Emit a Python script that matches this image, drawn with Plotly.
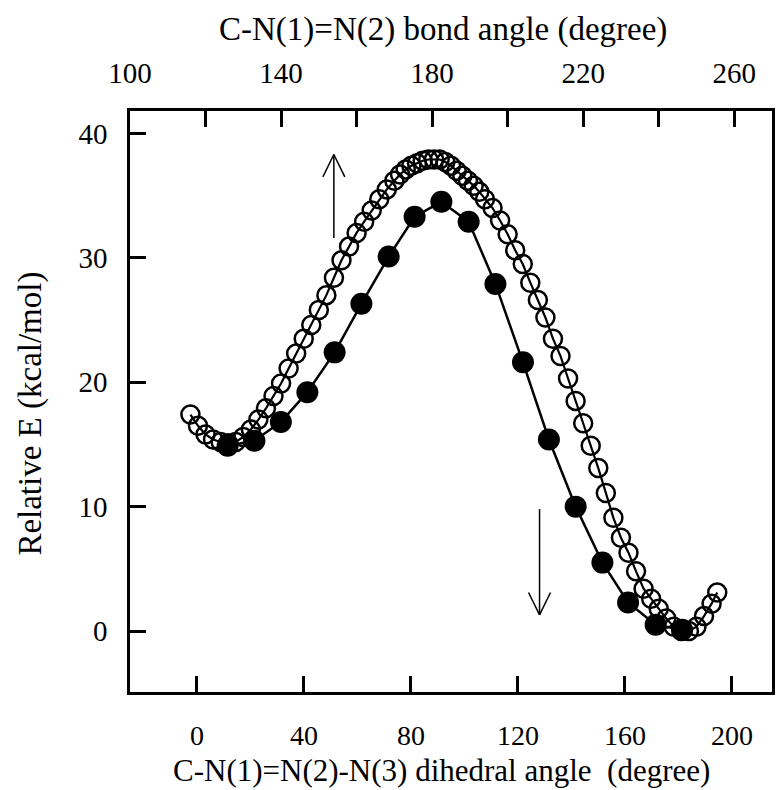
import plotly.graph_objects as go

# ---- data ----
# filled circles: energy vs C-N(1)=N(2)-N(3) dihedral angle (bottom axis)
dihedral = [11.5, 21.5, 31.4, 41.3, 51.5, 61.5, 71.7, 81.4, 91.4, 101.6,
            111.6, 121.9, 131.6, 141.6, 151.6, 161.2, 171.5, 181.4]
e_dihedral = [14.9, 15.3, 16.8, 19.2, 22.4, 26.3, 30.1, 33.3, 34.5, 32.9,
              27.9, 21.6, 15.4, 10.0, 5.5, 2.3, 0.5, 0.1]

# open circles: energy vs C-N(1)=N(2) bond angle (top axis)
bond_angle = [116, 118, 120, 122, 124, 126, 128, 130, 132, 134, 136, 138, 140,
              142, 144, 146, 148, 150, 152, 154, 156, 158, 160, 162, 164, 166,
              168, 170, 171.5, 173, 174.5, 176, 177.5, 179, 180.5, 182, 183.5,
              185, 186.5, 188, 189.5, 191, 192.5, 194, 196, 198, 200, 202, 204,
              206, 208, 210, 212, 214, 216, 218, 220, 222, 224, 226, 228, 230,
              232, 234, 236, 238, 240, 242, 244, 246, 248, 250, 252, 254, 255.5]
e_bond = [17.4, 16.5, 15.8, 15.4, 15.2, 15.1, 15.2, 15.6, 16.2, 17.0, 17.9,
          18.9, 19.9, 21.1, 22.3, 23.5, 24.6, 25.8, 27.0, 28.4, 29.8, 30.9,
          32.0, 32.9, 33.8, 34.7, 35.5, 36.2, 36.7, 37.1, 37.4, 37.6, 37.8,
          37.9, 37.9, 37.9, 37.7, 37.4, 37.0, 36.6, 36.2, 35.8, 35.3, 34.7,
          34.0, 33.0, 31.9, 30.6, 29.5, 28.0, 26.6, 25.2, 23.5, 22.1, 20.3,
          18.5, 16.7, 14.9, 13.1, 11.1, 9.1, 7.5, 6.3, 4.8, 3.4, 2.6, 1.8,
          1.0, 0.35, 0.0, 0.0, 0.35, 1.2, 2.2, 3.1]

bottom_ticks = [0, 40, 80, 120, 160, 200]
top_ticks = [100, 120, 140, 160, 180, 200, 220, 240, 260]
top_ticktext = ["100", "", "140", "", "180", "", "220", "", "260"]
y_ticks = [0, 10, 20, 30, 40]

# arrow annotations (bottom-axis / y data coords)
up_arrow = dict(x=51.2, y0=31.6, y1=38.3)
down_arrow = dict(x=128.1, y0=9.8, y1=1.3)
head_dx, head_dy = 4.1, 1.8

FONT = "Liberation Serif"
fs_tick = 29
fs_xtick = 28
fs_title = 33
fs_xtitle = 31

fig = go.Figure()
fig.add_trace(go.Scatter(
    x=dihedral, y=e_dihedral, mode="lines+markers",
    line=dict(color="black", width=2.5),
    marker=dict(symbol="circle", size=22, color="black"),
    xaxis="x", yaxis="y", showlegend=False))
fig.add_trace(go.Scatter(
    x=bond_angle, y=e_bond, mode="lines+markers",
    line=dict(color="black", width=2.2),
    marker=dict(symbol="circle-open", size=18, color="black",
                line=dict(width=2.5, color="black")),
    xaxis="x2", yaxis="y", showlegend=False))

shapes = []
for a, sgn in ((up_arrow, 1), (down_arrow, -1)):
    ln = dict(color="black", width=1.5)
    shapes.append(dict(type="line", xref="x", yref="y", x0=a["x"], x1=a["x"],
                       y0=a["y0"], y1=a["y1"], line=ln))
    for d in (-1, 1):
        shapes.append(dict(type="line", xref="x", yref="y",
                           x0=a["x"] + d * head_dx, y0=a["y1"] - sgn * head_dy,
                           x1=a["x"], y1=a["y1"], line=ln))

axis_common = dict(showgrid=False, zeroline=False, showline=True,
                   linecolor="black", linewidth=2.5, ticks="inside",
                   ticklen=16, tickwidth=2.5, tickcolor="black")

def tf(size):
    return dict(family=FONT, size=size, color="black")

fig.update_layout(
    width=778, height=790,
    margin=dict(l=130, r=3, t=111, b=98),
    paper_bgcolor="white", plot_bgcolor="white",
    font=tf(fs_tick),
    xaxis=dict(range=[-25, 215], tickvals=bottom_ticks, tickfont=tf(fs_xtick),
               ticklabelstandoff=17, **axis_common),
    xaxis2=dict(range=[100, 270], tickvals=top_ticks, ticktext=top_ticktext,
                overlaying="x", side="top", anchor="y", tickfont=tf(fs_tick),
                ticklabelstandoff=14, **axis_common),
    yaxis=dict(range=[-4.9, 41.8], tickvals=y_ticks, mirror=True,
               tickfont=tf(fs_tick), ticklabelstandoff=14, **axis_common),
    shapes=shapes,
    annotations=[
        dict(text="C-N(1)=N(2) bond angle (degree)", xref="paper", yref="paper",
             x=0.487, y=1.141, showarrow=False, xanchor="center", yanchor="middle",
             font=tf(fs_title)),
        dict(text="C-N(1)=N(2)-N(3) dihedral angle  (degree)", xref="paper",
             yref="paper", x=0.485, y=-0.169, showarrow=False, xanchor="center",
             yanchor="bottom", font=tf(fs_xtitle)),
        dict(text="Relative E (kcal/mol)", xref="paper", yref="paper",
             x=-0.155, y=0.48, showarrow=False, textangle=-90, xanchor="center",
             yanchor="middle", font=tf(fs_title)),
    ],
)

fig.write_html("out.html")
